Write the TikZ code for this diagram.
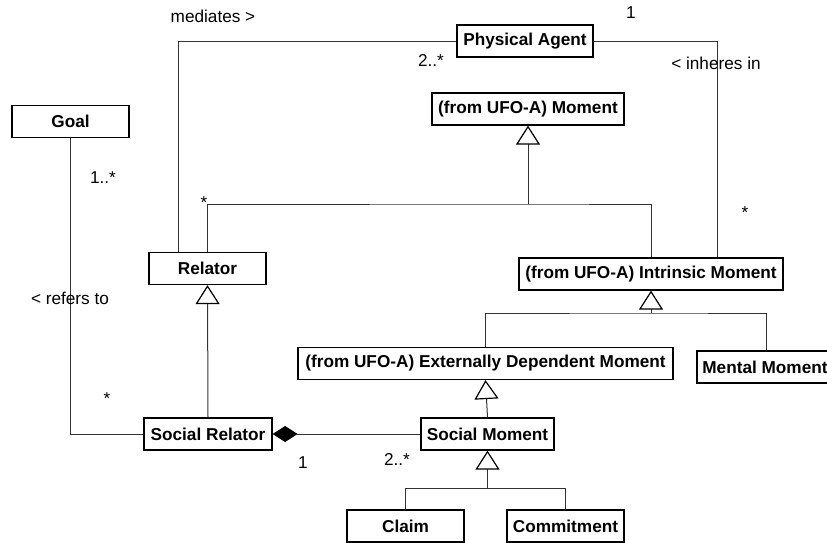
\documentclass[tikz,border=0pt]{standalone}
\usepackage{fontspec}
\setmainfont{Liberation Sans}
\usetikzlibrary{arrows.meta,positioning}

\begin{document}
\begin{tikzpicture}[x=1pt, y=-1pt,
        class/.style={draw, line width=1.2pt, fill=white, inner sep=0pt,
            minimum height=32pt, font=\fontsize{17.2}{20}\selectfont\bfseries},
        lbl/.style={inner sep=0pt, font=\fontsize{17.2}{20}\selectfont},
        assoc/.style={draw=black!80, line width=1pt},
        gen/.style={assoc, -{Triangle[open, length=19pt, width=24pt, line width=1.2pt, black]}},
        comp/.style={assoc, -{Diamond[length=25pt, width=16pt, black]}}]
        \clip (0,0) rectangle (827,542);
        \node[class, minimum width=117pt] (goal) at (70.5,121.5) {Goal};
        \node[class, minimum width=117pt] (relator) at (207.5,268.5) {Relator};
        \node[class, minimum width=136pt] (agent) at (525,41) {Physical Agent};
        \node[class, minimum width=192pt] (moment) at (528,109) {(from UFO-A) Moment};
        \node[class, minimum width=264pt] (intrinsic) at (651,274) {(from UFO-A) Intrinsic Moment};
        \node[class, minimum width=375pt] (external) at (485.5,363.5) {(from UFO-A) Externally Dependent Moment};
        \node[class, minimum width=136pt] (mental) at (765,367) {Mental Moment};
        \node[class, minimum width=128pt] (socialrelator) at (208,434) {Social Relator};
        \node[class, minimum width=133pt] (socialmoment) at (487.5,434) {Social Moment};
        \node[class, minimum width=117pt] (claim) at (405.5,526) {Claim};
        \node[class, minimum width=117pt] (commitment) at (565.5,526) {Commitment};
        \coordinate (mjoin) at (moment.south |- 0,204);
        \coordinate (ijoin) at (intrinsic.south |- 0,313);
        \coordinate (sjoin) at (socialmoment.south |- 0,488);
        \draw[assoc] ([xshift=-29pt]relator.north) |- (agent.west);
        \draw[assoc] (agent.east) -| ([xshift=66pt]intrinsic.north);
        \draw[assoc] (relator.north) |- (mjoin) -| (intrinsic.north);
        \draw[gen] (mjoin) -- (moment.south);
        \draw[assoc] (external.north) |- (ijoin) -| ([xshift=1pt]mental.north);
        \draw[gen] (ijoin) -- (intrinsic.south);
        \draw[gen] (socialmoment.north) -- (external.south);
        \draw[assoc] (claim.north) |- (sjoin) -| (commitment.north);
        \draw[gen] (sjoin) -- (socialmoment.south);
        \draw[gen] (socialrelator.north) -- (relator.south);
        \draw[assoc] (goal.south) |- (socialrelator.west);
        \draw[comp] (socialmoment.west) -- (socialrelator.east);
        \node[lbl] (mediates) at (213,16) {mediates >};
        \node[lbl] (agentmult) at (431,60) {2..*};
        \node[lbl] (inheresone) at (631,13) {1};
        \node[lbl] (inheres) at (716,63) {< inheres in};
        \node[lbl] (intrinsicmult) at (745,213) {*};
        \node[lbl] (relatormult) at (204,203) {*};
        \node[lbl] (goalmult) at (103,178) {1..*};
        \node[lbl] (refers) at (70,298) {< refers to};
        \node[lbl] (refersmult) at (107,399) {*};
        \node[lbl] (wholemult) at (303,463) {1};
        \node[lbl] (partmult) at (397,459) {2..*};
\end{tikzpicture}
\end{document}
